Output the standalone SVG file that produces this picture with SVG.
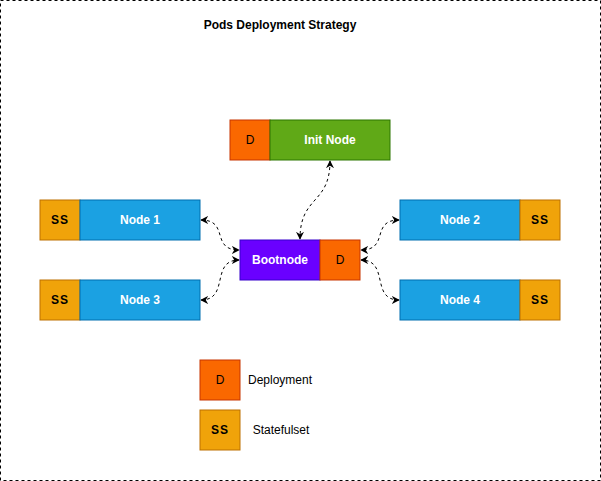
<svg xmlns="http://www.w3.org/2000/svg" width="601" height="481" viewBox="0 0 601 481">
<defs>
<style>
.t{font-family:"Liberation Sans",Arial,sans-serif;font-size:12px;text-anchor:middle;dominant-baseline:central}
.w{fill:#fff;font-weight:bold}
.b{fill:#000}
.ss{font-weight:bold;letter-spacing:1px}
.dep{fill:#fa6800;stroke:#c73500}
.sts{fill:#f0a30a;stroke:#bd7000}
.blue{fill:#1ba1e2;stroke:#006eaf}
.edge{fill:none;stroke:#000;stroke-dasharray:3 3;marker-start:url(#ah);marker-end:url(#ah)}
</style>
<marker id="ah" viewBox="0 0 10 10" refX="9" refY="5" markerWidth="8" markerHeight="8" markerUnits="userSpaceOnUse" orient="auto-start-reverse">
<path d="M0,0 L10,5 L0,10 L3,5 Z" fill="#000"/>
</marker>
</defs>
<rect x="0.5" y="0.5" width="600" height="480" fill="#fff" stroke="#000" stroke-dasharray="3 3"/>
<text class="t b" x="280" y="25" font-weight="bold">Pods Deployment Strategy</text>
<g id="connectors">
<path class="edge" d="M330,161 C330,205 300,195 300,239"/>
<path class="edge" d="M201,220 C230,220 210,250 239,250"/>
<path class="edge" d="M201,300 C230,300 210,260 239,260"/>
<path class="edge" d="M399,220 C370,220 390,250 361,250"/>
<path class="edge" d="M399,300 C370,300 390,260 361,260"/>
</g>
<g id="init-node">
<rect class="dep" x="230" y="120" width="40" height="40"/>
<text class="t b" x="250" y="140">D</text>
<rect x="270" y="120" width="120" height="40" fill="#60a917" stroke="#2d7600"/>
<text class="t w" x="330" y="140">Init Node</text>
</g>
<g id="bootnode">
<rect x="240" y="240" width="80" height="40" fill="#6a00ff" stroke="#3700cc"/>
<text class="t w" x="280" y="260">Bootnode</text>
<rect class="dep" x="320" y="240" width="40" height="40"/>
<text class="t b" x="340" y="260">D</text>
</g>
<g id="node1">
<rect class="sts" x="40" y="200" width="40" height="40"/>
<text class="t b ss" x="60" y="220">SS</text>
<rect class="blue" x="80" y="200" width="120" height="40"/>
<text class="t w" x="140" y="220">Node 1</text>
</g>
<g id="node3">
<rect class="sts" x="40" y="280" width="40" height="40"/>
<text class="t b ss" x="60" y="300">SS</text>
<rect class="blue" x="80" y="280" width="120" height="40"/>
<text class="t w" x="140" y="300">Node 3</text>
</g>
<g id="node2">
<rect class="blue" x="400" y="200" width="120" height="40"/>
<text class="t w" x="460" y="220">Node 2</text>
<rect class="sts" x="520" y="200" width="40" height="40"/>
<text class="t b ss" x="540" y="220">SS</text>
</g>
<g id="node4">
<rect class="blue" x="400" y="280" width="120" height="40"/>
<text class="t w" x="460" y="300">Node 4</text>
<rect class="sts" x="520" y="280" width="40" height="40"/>
<text class="t b ss" x="540" y="300">SS</text>
</g>
<g id="legend-deployment">
<rect class="dep" x="200" y="360" width="40" height="40"/>
<text class="t b" x="220" y="380">D</text>
<text class="t b" x="280" y="380">Deployment</text>
</g>
<g id="legend-statefulset">
<rect class="sts" x="200" y="410" width="40" height="40"/>
<text class="t b ss" x="220" y="430">SS</text>
<text class="t b" x="281" y="430">Statefulset</text>
</g>
</svg>
